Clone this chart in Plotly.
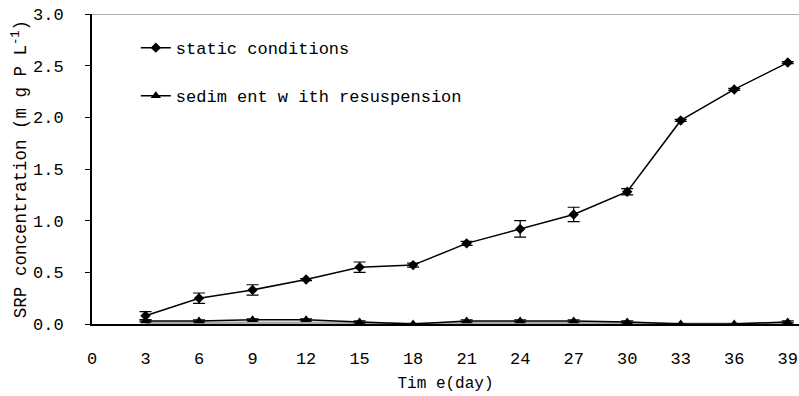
import plotly.graph_objects as go

days = [3, 6, 9, 12, 15, 18, 21, 24, 27, 30, 33, 36, 39]
static_vals = [0.08, 0.25, 0.33, 0.43, 0.55, 0.57, 0.78, 0.92, 1.06, 1.28, 1.97, 2.27, 2.53]
static_err = [0.04, 0.05, 0.05, 0.01, 0.05, 0.02, 0.02, 0.08, 0.07, 0.03, 0.01, 0.01, 0.01]
resusp_vals = [0.03, 0.03, 0.04, 0.04, 0.02, 0.0, 0.03, 0.03, 0.03, 0.02, 0.0, 0.0, 0.02]
resusp_err = [0.01, 0.01, 0.01, 0.01, 0.01, 0.0, 0.01, 0.01, 0.01, 0.01, 0.0, 0.0, 0.01]
base_vals = [0.01, 0.01, 0.01, 0.01, 0.01, 0.0, 0.01, 0.01, 0.01, 0.01, 0.0, 0.0, 0.01]

x_ticks = [0, 3, 6, 9, 12, 15, 18, 21, 24, 27, 30, 33, 36, 39]
y_ticks = [0.0, 0.5, 1.0, 1.5, 2.0, 2.5, 3.0]
y_max = 3.0

FONT = "Liberation Mono"

fig = go.Figure()

fig.add_trace(go.Scatter(
    x=days, y=base_vals, mode="lines",
    line=dict(color="#aaaaaa", width=3), showlegend=False, hoverinfo="skip"))

fig.add_trace(go.Scatter(
    x=days, y=static_vals, mode="lines+markers", name="static conditions",
    line=dict(color="black", width=1.5),
    marker=dict(symbol="diamond", size=8, color="black"),
    error_y=dict(type="data", array=static_err, visible=True, color="black", thickness=1.2, width=6),
    legendgroup="a"))

fig.add_trace(go.Scatter(
    x=days, y=resusp_vals, mode="lines+markers", name="sedim ent w ith resuspension",
    line=dict(color="black", width=1.5),
    marker=dict(symbol="triangle-up", size=9, color="black"),
    error_y=dict(type="data", array=resusp_err, visible=True, color="black", thickness=1.2, width=6),
    legendgroup="b"))

fig.add_shape(type="line", xref="paper", yref="y", x0=0, x1=1, y0=y_max, y1=y_max,
              line=dict(color="#666666", width=1.2))

fig.update_layout(
    width=799, height=396,
    margin=dict(l=92, r=0, t=14, b=72),
    paper_bgcolor="white", plot_bgcolor="white",
    font=dict(family=FONT, size=16, color="black"),
    legend=dict(x=0.062, y=0.948, xanchor="left", yanchor="top",
                bgcolor="rgba(0,0,0,0)", tracegroupgap=23,
                font=dict(family=FONT, size=17)),
    xaxis=dict(range=[0, 39.63], tickmode="array", tickvals=x_ticks,
               ticktext=[str(v) for v in x_ticks],
               showgrid=False, zeroline=False, showline=True, linecolor="black", linewidth=2,
               ticks="", ticklabelstandoff=18,
               title=dict(text="Tim e(day)", font=dict(family=FONT, size=16), standoff=8),
               tickfont=dict(family=FONT, size=17)),
    yaxis=dict(range=[0, y_max], tickmode="array", tickvals=y_ticks,
               ticktext=["%.1f" % v for v in y_ticks],
               showgrid=False, zeroline=False, showline=True, linecolor="black", linewidth=2,
               ticks="outside", ticklen=5, tickcolor="black", ticklabelstandoff=18,
               title=dict(text="SRP concentration (m g P L<sup>-1</sup>)", font=dict(family=FONT, size=17.5), standoff=2),
               tickfont=dict(family=FONT, size=17)),
)

fig.write_html("out.html")
